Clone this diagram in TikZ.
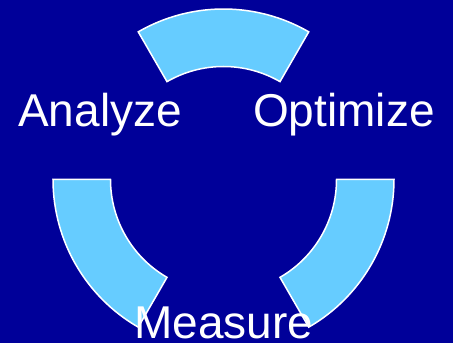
\documentclass[tikz,border=0pt]{standalone}
\usepackage{fontspec}
\setmainfont{Liberation Sans}
\definecolor{bgblue}{RGB}{0,0,153}
\definecolor{arcblue}{RGB}{102,204,255}
\begin{document}
\begin{tikzpicture}[x=1pt, y=1pt,
  seg/.style={fill=arcblue, draw=white, line width=1.5pt, line join=miter},
  lbl/.style={text=white, inner sep=0, anchor=base west, font=\fontsize{46}{50}\selectfont}]
\fill[bgblue] (0,0) rectangle (453,343);
\useasboundingbox (0,0) rectangle (453,343);
\coordinate (ctr) at (223.5,163.5);
\draw[seg] ([shift={(60:170.5)}]ctr) arc (60:120:170.5) -- ([shift={(120:113)}]ctr) arc (120:60:113) -- cycle;
\draw[seg] ([shift={(180:170.5)}]ctr) arc (180:240:170.5) -- ([shift={(240:113)}]ctr) arc (240:180:113) -- cycle;
\draw[seg] ([shift={(-60:170.5)}]ctr) arc (-60:0:170.5) -- ([shift={(0:113)}]ctr) arc (0:-60:113) -- cycle;
\node[lbl] (analyze) at (18,216.5) {Analyze};
\node[lbl] (optimize) at (253,216.5) {Optimize};
\node[lbl] (measure) at (134,4.5) {Measure};
\end{tikzpicture}
\end{document}
